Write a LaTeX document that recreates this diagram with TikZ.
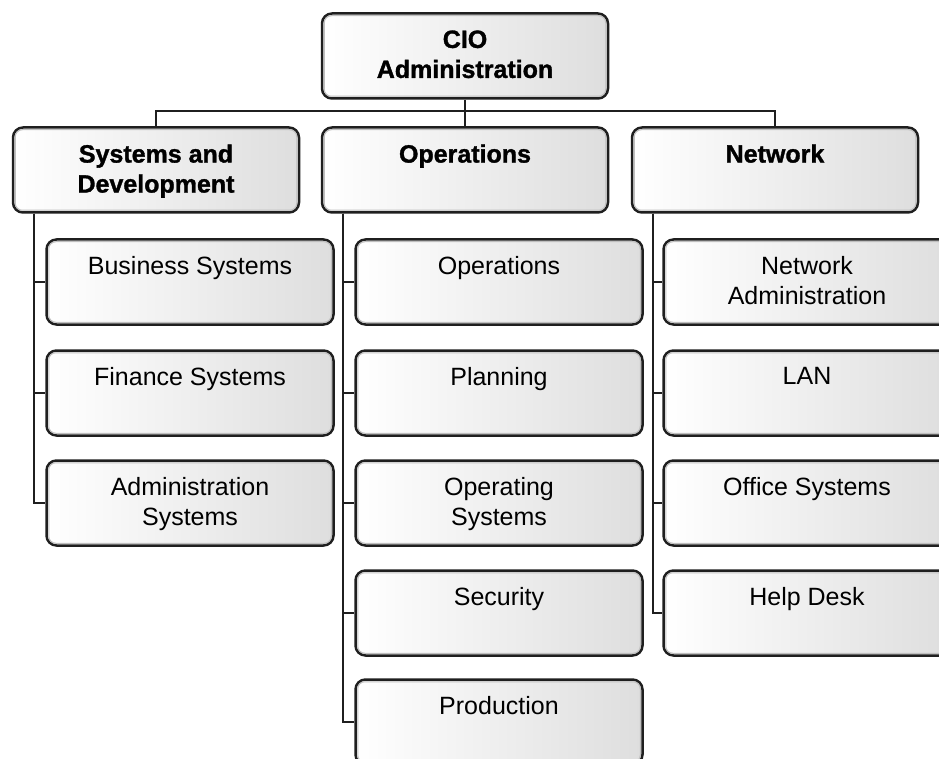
\documentclass[tikz,border=0pt]{standalone}
\usepackage{fontspec}
\setmainfont{Liberation Sans}[BoldFeatures={FakeBold=1.3}]
\usepackage{tikz}
\usetikzlibrary{calc}
\tikzstyle{unit}=[rectangle,rounded corners=10pt,draw=black!88,line width=2.5pt,left color=white,right color=black!13,minimum width=286pt,minimum height=85pt,inner sep=0pt]
\tikzstyle{subunit}=[unit,minimum width=287pt]
\tikzstyle{rim}=[draw=black!25,line width=1pt,rounded corners=7pt]
\tikzstyle{link}=[draw=black!88,line width=2.4pt]
\tikzstyle{toptext}=[anchor=north,yshift=-18pt,inner sep=0pt,align=center,font=\fontsize{25}{30}\selectfont\bfseries]
\tikzstyle{subtext}=[toptext,font=\fontsize{25}{30}\selectfont]

\begin{document}
\begin{tikzpicture}[x=1pt,y=-1pt]
    \clip (0,0) rectangle (939,759);
    % First the CIO and the three departments
    \foreach \pos/\name in {{(465,56)/cio},
    {(156,170)/sys}, {(465,170)/ops}, {(775,170)/net}}
        \node[unit] (\name) at \pos {};

    % then the groups below each department
    \foreach \pos/\name in {{(190,282)/bus}, {(190,393)/fin}, {(190,503)/adm},
    {(499,282)/opr}, {(499,393)/pln}, {(499,503)/osy}, {(499,613)/sec}, {(499,722)/prd},
    {(807,282)/nad}, {(807,393)/lan}, {(807,503)/off}, {(807,613)/hlp}}
        \node[subunit] (\name) at \pos {};

    % inner rim of every box
    \foreach \name in {cio,sys,ops,net,bus,fin,adm,opr,pln,osy,sec,prd,nad,lan,off,hlp}
        \draw[rim] ([shift={(3.5pt,-3.5pt)}]\name.north west) rectangle ([shift={(-3.5pt,3.5pt)}]\name.south east);

    \foreach \name/\label in {cio/{CIO\\Administration}, sys/{Systems and\\Development},
    ops/Operations, net/Network}
        \node[toptext] at (\name.north) {\label};

    \foreach \name/\label in {bus/Business Systems, fin/Finance Systems, adm/{Administration\\Systems},
    opr/Operations, pln/Planning, osy/{Operating\\Systems}, sec/Security, prd/Production,
    nad/{Network\\Administration}, lan/LAN, off/Office Systems, hlp/Help Desk}
        \node[subtext] at (\name.north) {\label};

    % Connect the boxes
    \draw[link] (cio) -- (ops);
    \draw[link] (sys.north) -- ++(0,-15) -| (net.north);
    \foreach \parent/\child in {sys/bus, sys/fin, sys/adm,
    ops/opr, ops/pln, ops/osy, ops/sec, ops/prd,
    net/nad, net/lan, net/off, net/hlp}
        \draw[link] ([xshift=22pt]\parent.south west) |- (\child.west);
\end{tikzpicture}
\end{document}
